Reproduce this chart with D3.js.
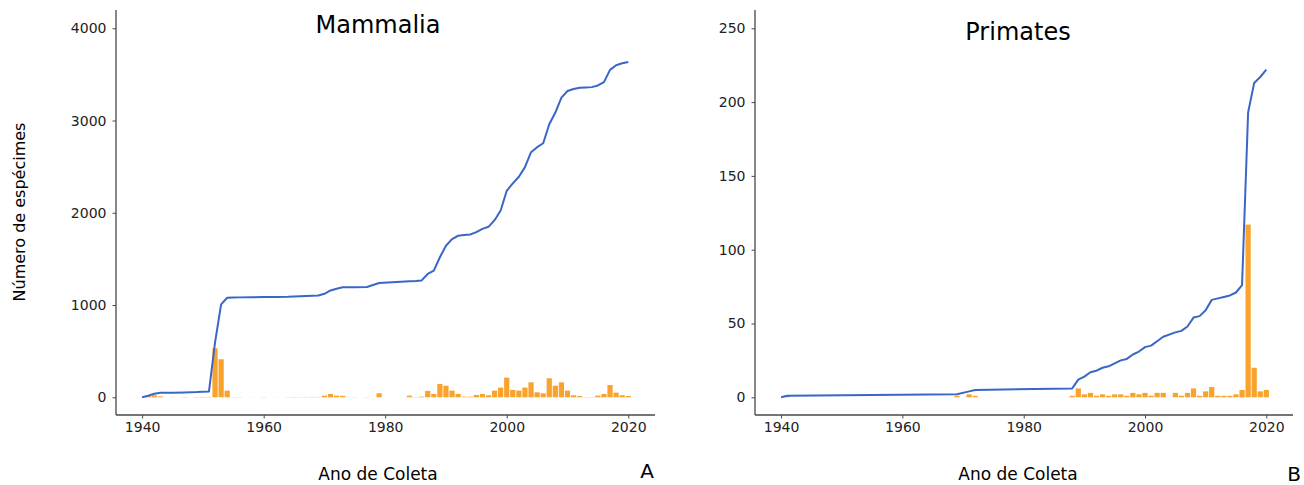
<!DOCTYPE html>
<meta charset="utf-8">
<script src="https://d3js.org/d3.v7.min.js"></script>
<style>
body { margin: 0; background: #fff; }
svg { font-family: "DejaVu Sans", sans-serif; }
</style>
<svg id="chart" width="1304" height="485"></svg>
<script>
// Mammalia: specimens per year and the running total
const mamYears = [1940, 1941, 1942, 1943, 1945, 1947, 1949, 1950, 1951, 1952, 1953, 1954,
  1955, 1956, 1958, 1960, 1962, 1964, 1965, 1966, 1967, 1968, 1969, 1970, 1971, 1972, 1973,
  1975, 1977, 1979, 1984, 1985, 1986, 1987, 1988, 1989, 1990, 1991, 1992, 1993, 1994, 1995,
  1996, 1997, 1998, 1999, 2000, 2001, 2002, 2003, 2004, 2005, 2006, 2007, 2008, 2009, 2010,
  2011, 2012, 2013, 2014, 2015, 2016, 2017, 2018, 2019, 2020];
const mamCounts = [1, 15, 22, 10, 2, 3, 3, 4, 4, 531, 412, 72,
  2, 2, 1, 2, 1, 2, 3, 2, 3, 4, 3, 18, 36, 18, 16,
  2, 2, 43, 18, 3, 7, 70, 36, 145, 125, 72, 36, 7, 7, 25,
  36, 22, 72, 105, 213, 80, 72, 105, 162, 54, 43, 206, 126, 162, 72,
  22, 14, 3, 3, 18, 36, 133, 50, 22, 14];
const mamTotal = [1, 16, 38, 48, 50, 53, 56, 60, 64, 595, 1007, 1079,
  1081, 1083, 1084, 1086, 1087, 1089, 1092, 1094, 1097, 1101, 1104, 1122, 1158, 1176, 1192,
  1194, 1196, 1239, 1257, 1260, 1267, 1337, 1373, 1518, 1643, 1715, 1751, 1758, 1765, 1790,
  1826, 1848, 1920, 2025, 2238, 2318, 2390, 2495, 2657, 2711, 2754, 2960, 3086, 3248, 3320,
  3342, 3356, 3359, 3362, 3380, 3416, 3549, 3599, 3621, 3635];

// Primates
const priYears = [1940, 1941, 1969, 1971, 1972, 1988, 1989, 1990, 1991, 1992, 1993, 1994,
  1995, 1996, 1997, 1998, 1999, 2000, 2001, 2002, 2003, 2005, 2006, 2007, 2008, 2009, 2010,
  2011, 2012, 2013, 2014, 2015, 2016, 2017, 2018, 2019, 2020];
const priCounts = [0, 1, 1, 2, 1, 1, 6, 2, 3, 1, 2, 1,
  2, 2, 1, 3, 2, 3, 1, 3, 3, 3, 1, 3, 6, 1, 4,
  7, 1, 1, 1, 2, 5, 117, 20, 4, 5];
const priTotal = [0, 1, 2, 4, 5, 6, 12, 14, 17, 18, 20, 21,
  23, 25, 26, 29, 31, 34, 35, 38, 41, 44, 45, 48, 54, 55, 59,
  66, 67, 68, 69, 71, 76, 193, 213, 217, 222];

const xTicks = [1940, 1960, 1980, 2000, 2020];
const mamTicks = [0, 1000, 2000, 3000, 4000];
const priTicks = [0, 50, 100, 150, 200, 250];

const svg = d3.select("#chart");

const panels = [
  { title: "Mammalia", tag: "A", years: mamYears, counts: mamCounts, total: mamTotal,
    yTicks: mamTicks, yDomain: [-192, 4198], left: 116, right: 655, titleX: 378, titleY: 33,
    tagX: 647, tagY: 478, xLabelX: 378 },
  { title: "Primates", tag: "B", years: priYears, counts: priCounts, total: priTotal,
    yTicks: priTicks, yDomain: [-12, 262.4], left: 755, right: 1293, titleX: 1018, titleY: 40,
    tagX: 1294, tagY: 481, xLabelX: 1018 }
];

const plotTop = 10, plotBottom = 415;
const axisColor = "#4d4646";

panels.forEach(function(p) {
  const x = d3.scaleLinear().domain([1935.7, 2024.4]).range([p.left, p.right]);
  const y = d3.scaleLinear().domain(p.yDomain).range([plotBottom, plotTop]);
  const g = svg.append("g");

  // bars (yearly counts)
  const bw = x(1940.43) - x(1940);
  g.selectAll("rect.bar")
    .data(p.years.map(function(d, i) { return { year: d, n: p.counts[i] }; }))
    .enter().append("rect")
    .attr("class", "bar")
    .attr("x", function(d) { return x(d.year) - bw; })
    .attr("width", bw * 2)
    .attr("y", function(d) { return y(d.n); })
    .attr("height", function(d) { return y(0) - y(d.n); })
    .attr("fill", "#f9a22c");

  // cumulative line
  const line = d3.line()
    .x(function(d, i) { return x(p.years[i]); })
    .y(function(d) { return y(d); });
  g.append("path")
    .datum(p.total)
    .attr("d", line)
    .attr("fill", "none")
    .attr("stroke", "#3a66c8")
    .attr("stroke-width", 2)
    .attr("stroke-linejoin", "round");

  // axes
  const xAxis = g.append("g")
    .attr("transform", "translate(0," + plotBottom + ")")
    .call(d3.axisBottom(x).tickValues(xTicks).tickFormat(d3.format("d")).tickSize(3.5).tickPadding(4));
  const yAxis = g.append("g")
    .attr("transform", "translate(" + p.left + ",0)")
    .call(d3.axisLeft(y).tickValues(p.yTicks).tickFormat(d3.format("d")).tickSize(3.5).tickPadding(6));

  [xAxis, yAxis].forEach(function(a) {
    a.select(".domain").remove();
    a.selectAll("line").attr("stroke", axisColor);
    a.selectAll("text").attr("fill", "#222").style("font-size", "14px")
      .style("font-family", "DejaVu Sans");
  });

  g.append("line").attr("x1", p.left).attr("x2", p.left).attr("y1", plotTop).attr("y2", plotBottom)
    .attr("stroke", axisColor).attr("stroke-width", 1.3);
  g.append("line").attr("x1", p.left).attr("x2", p.right).attr("y1", plotBottom).attr("y2", plotBottom)
    .attr("stroke", axisColor).attr("stroke-width", 1.3);

  g.append("text")
    .attr("x", p.titleX).attr("y", p.titleY)
    .attr("text-anchor", "middle")
    .style("font-size", "24px")
    .text(p.title);

  g.append("text")
    .attr("x", p.xLabelX).attr("y", 480)
    .attr("text-anchor", "middle")
    .style("font-size", "17px")
    .text("Ano de Coleta");

  g.append("text")
    .attr("x", p.tagX).attr("y", p.tagY)
    .attr("text-anchor", "middle")
    .style("font-size", "20px")
    .text(p.tag);
});

svg.append("text")
  .attr("transform", "translate(25,212) rotate(-90)")
  .attr("text-anchor", "middle")
  .style("font-size", "16px")
  .text("Número de espécimes");
</script>
